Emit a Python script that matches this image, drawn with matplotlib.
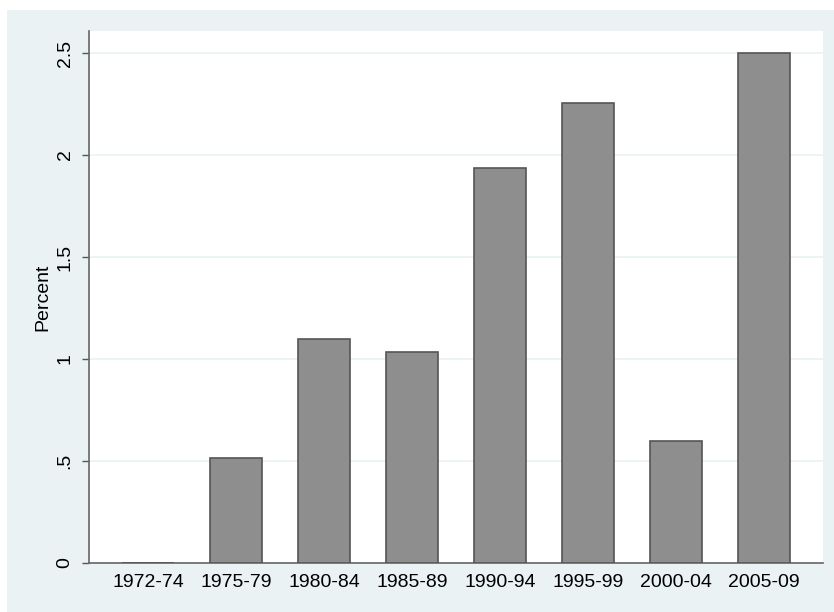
import matplotlib.pyplot as plt
from matplotlib.patches import Rectangle

# Periodos e valores (percentual)
periods = ["1972-74", "1975-79", "1980-84", "1985-89",
           "1990-94", "1995-99", "2000-04", "2005-09"]
percent = [0, 0.515, 1.098, 1.034, 1.936, 2.255, 0.598, 2.5]
yticks = [0, 0.5, 1, 1.5, 2, 2.5]
ytick_labels = ["0", ".5", "1", "1.5", "2", "2.5"]

plt.rcParams['font.family'] = ['Liberation Sans', 'DejaVu Sans']

bg = '#EAF2F3'
fig = plt.figure(figsize=(8.34, 6.12), dpi=100, facecolor='white')
# Fundo azulado estilo Stata (com pequena margem branca em cima e a esquerda)
fig.patches.append(Rectangle((7 / 834, 0), 1 - 7 / 834, 1 - 10 / 612,
                             transform=fig.transFigure, facecolor=bg,
                             edgecolor='none', zorder=-10))

ax = fig.add_axes([89 / 834, (612 - 563) / 612, (823 - 89) / 834, (563 - 31) / 612])
ax.set_facecolor('white')

x = list(range(len(periods)))
ax.bar(x, percent, width=0.6, color='#8E8E8E', edgecolor='#555555',
       linewidth=1.2, zorder=3)

ax.set_xlim(-0.67, len(periods) - 1 + 0.67)
ax.set_ylim(0, 2.608)
ax.set_xticks(x)
ax.set_xticklabels(periods, fontsize=14)
ax.set_yticks(yticks)
ax.set_yticklabels(ytick_labels, fontsize=14, rotation=90, va='center')
ax.tick_params(axis='x', length=0, pad=8)
ax.tick_params(axis='y', length=5, width=1, color='#555555', pad=6)

ax.yaxis.grid(True, color=bg, linewidth=1.2, zorder=0)
ax.set_axisbelow(True)

for side in ['top', 'right']:
    ax.spines[side].set_visible(False)
for side in ['left', 'bottom']:
    ax.spines[side].set_color('#666666')
    ax.spines[side].set_linewidth(1.2)

ax.set_ylabel("Percent", fontsize=14, labelpad=4)

plt.savefig('out.png', dpi=100)
